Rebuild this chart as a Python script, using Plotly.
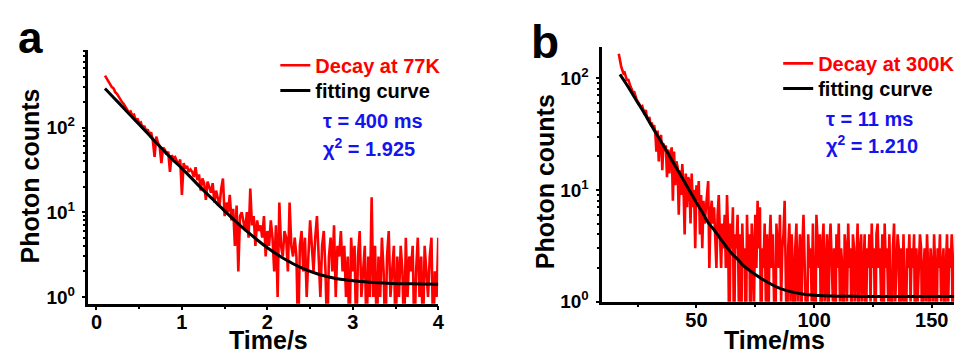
import plotly.graph_objects as go

# ---------------- Panel a : decay at 77 K ----------------
a_t0 = 0.10      # s, first time bin
a_dt = 0.02      # s, bin width
a_counts = [
    410, 380, 350, 330, 300, 290, 262, 250, 231, 220, 200,
    190, 175, 168, 150, 155, 138, 142, 120, 128, 112,
    115, 98, 105, 90, 95, 82, 88, 70, 45, 78,
    66, 60, 38, 58, 55, 48, 52, 30, 47, 44,
    45, 40, 36, 42, 16, 38, 33, 35, 30, 32,
    30, 26, 34, 24, 28, 18, 25, 22, 14, 23,
    20, 17, 22, 13, 18, 15, 12, 19, 25, 9,
    13, 10, 16, 8, 11, 4, 12, 2, 9, 10,
    8, 6, 10, 5, 19, 7, 9, 4, 8, 6,
    7, 5, 9, 3, 6, 4, 8, 5, 2, 7,
    1, 13, 4, 3, 6, 5, 2, 13, 4, 3,
    5, 3, 0, 4, 6, 2, 5, 1, 3, 8,
    4, 2, 5, 9, 3, 1, 4, 6, 2, 0,
    3, 5, 2, 7, 1, 4, 3, 6, 2, 4,
    1, 3, 0, 5, 2, 4, 0, 3, 6, 1,
    2, 4, 0, 3, 1, 15, 1, 4, 0, 3,
    1, 5, 2, 0, 3, 6, 1, 2, 4, 0,
    3, 1, 4, 2, 0, 5, 1, 3, 2, 4,
    0, 2, 5, 1, 3, 0, 4, 2, 1, 3,
    5, 0, 2, 1, 5,
]
a_fit_t = [0.1, 0.2, 0.3, 0.4, 0.5, 0.6, 0.7, 0.8, 0.9, 1.0, 1.2, 1.4, 1.6, 1.8,
           2.0, 2.2, 2.4, 2.6, 2.8, 3.0, 3.2, 3.4, 3.6, 3.8, 4.0]
a_fit_y = [290, 227, 178, 139, 109, 85, 66, 52, 41, 33, 20.5, 13, 8.3, 5.5,
           3.8, 2.8, 2.2, 1.85, 1.65, 1.55, 1.49, 1.45, 1.43, 1.42, 1.41]

# ---------------- Panel b : decay at 300 K ----------------
b_t0 = 17.0      # ms, first time bin
b_dt = 0.5       # ms, bin width
b_counts = [
    165, 140, 128, 118, 110, 112, 100, 95, 98, 88,
    84, 80, 74, 76, 68, 65, 62, 60, 58, 55,
    56, 50, 47, 52, 44, 42, 45, 38, 40, 36,
    38, 33, 22, 34, 18, 29, 31, 15, 26, 22,
    25, 13, 23, 14, 21, 24, 8, 22, 11, 18,
    16, 6, 15, 9, 17, 11, 4, 14, 7, 13,
    12, 5, 14, 7, 10, 3, 11, 8, 12, 4,
    9, 3, 8, 5, 7, 10, 12, 2, 6, 8,
    5, 7, 3, 2, 6, 9, 4, 2, 5, 3,
    6, 2, 9, 4, 0, 5, 3, 7, 0, 4,
    3, 6, 1, 4, 0, 5, 2, 3, 0, 6,
    2, 4, 0, 5, 3, 1, 6, 2, 8, 3,
    7, 0, 3, 2, 5, 1, 4, 0, 3, 6,
    2, 4, 1, 0, 5, 3, 2, 6, 1, 3,
    4, 8, 2, 0, 3, 5, 1, 4, 2, 0,
    3, 5, 1, 2, 4, 0, 3, 6, 2, 1,
    0, 4, 2, 3, 1, 5, 2, 0, 6, 3,
    2, 4, 0, 3, 5, 1, 2, 4, 0, 3,
    5, 2, 1, 3, 0, 4, 2, 5, 1, 3,
    2, 0, 4, 3, 1, 5, 2, 3, 0, 4,
    3, 1, 2, 5, 0, 3, 4, 1, 2, 4,
    0, 3, 2, 4, 1, 5, 2, 3, 0, 4,
    5, 2, 3, 1, 4, 0, 5, 2, 3, 1,
    4, 2, 0, 3, 5, 1, 2, 4, 3, 0,
    3, 1, 4, 2, 0, 3, 2, 4, 1, 3,
    2, 4, 0, 3, 1, 2, 4, 3, 0, 2,
    3, 1, 4, 2, 0, 3, 2, 1, 4, 2,
    0, 3, 2, 4, 1, 2, 3, 0, 2, 4,
    1, 3, 2, 4, 0, 2, 4,
]
b_fit_t = [17.5, 20, 22.5, 25, 27.5, 30, 32.5, 35, 37.5, 40, 42.5, 45, 47.5, 50,
           52.5, 55, 57.5, 60, 62.5, 65, 67.5, 70, 75, 80, 85, 90, 95, 100,
           110, 120, 140, 160]
b_fit_y = [108, 90, 74, 60.5, 50, 40.5, 33, 27, 22, 17.8, 14.5, 11.7, 9.5, 7.7,
           6.3, 5.1, 4.4, 3.7, 3.15, 2.7, 2.4, 2.1, 1.75, 1.5, 1.33, 1.23, 1.17, 1.14,
           1.12, 1.115, 1.11, 1.11]

# tick definitions
log_tickvals = [1, 10, 100]
log_ticktext = ["10<sup>0</sup>", "10<sup>1</sup>", "10<sup>2</sup>"]
log_minor = [2, 3, 4, 5, 6, 7, 8, 9, 20, 30, 40, 50, 60, 70, 80, 90, 200, 300, 400, 500, 600, 700, 800]
a_xticks = [0, 1, 2, 3, 4]
a_xminor = [0.5, 1.5, 2.5, 3.5]
b_xticks = [50, 100, 150]
b_xminor = [25, 75, 125]

ZERO_FLOOR = 0.3  # zero-count bins are drawn below the log axis (clipped)

a_t = [a_t0 + i * a_dt for i in range(len(a_counts))]
b_t = [b_t0 + i * b_dt for i in range(len(b_counts))]
a_y = [c if c > 0 else ZERO_FLOOR for c in a_counts]
b_y = [c if c > 0 else ZERO_FLOOR for c in b_counts]

FONT = "Liberation Sans"
RED = "#ff0000"
BLUE = "#1414ee"

fig = go.Figure()
fig.add_trace(go.Scatter(x=a_t, y=a_y, mode="lines", line=dict(color=RED, width=2.6),
                         name="<span style='color:#ff0000'>Decay at 77K</span>",
                         xaxis="x", yaxis="y", legend="legend"))
fig.add_trace(go.Scatter(x=a_fit_t, y=a_fit_y, mode="lines", line=dict(color="black", width=3, shape="spline"),
                         name="fitting curve", xaxis="x", yaxis="y", legend="legend3"))
fig.add_trace(go.Scatter(x=b_t, y=b_y, mode="lines", line=dict(color=RED, width=2.6),
                         name="<span style='color:#ff0000'>Decay at 300K</span>",
                         xaxis="x2", yaxis="y2", legend="legend2"))
fig.add_trace(go.Scatter(x=b_fit_t, y=b_fit_y, mode="lines", line=dict(color="black", width=3, shape="spline"),
                         name="fitting curve", xaxis="x2", yaxis="y2", legend="legend4"))

W, H = 965, 358
def px(v): return v / W
def py(v): return 1 - v / H

axis_common = dict(showline=True, linecolor="black", linewidth=2.5, showgrid=False, zeroline=False,
                   ticks="outside", ticklen=4, tickwidth=2, tickcolor="black")
xtickfont = dict(family=FONT, size=20, color="black", weight="bold")
ytickfont = dict(family=FONT, size=19, color="black", weight="bold")
title_font = dict(family=FONT, size=25, color="black", weight="bold")

def legend_box(x, y):
    return dict(x=px(x), y=py(y), xanchor="left", yanchor="top", bgcolor="rgba(0,0,0,0)",
                font=dict(family=FONT, size=20, color="black", weight="bold"), itemwidth=30)

fig.update_layout(
    width=W, height=H, margin=dict(l=0, r=0, t=0, b=0),
    paper_bgcolor="white", plot_bgcolor="white",
    font=dict(family=FONT, color="black"),
    xaxis=dict(**axis_common, tickfont=xtickfont, ticklabelstandoff=-5,
               domain=[px(81), px(433)], range=[-0.093, 4.0], anchor="y",
               tickmode="array", tickvals=a_xticks,
               minor=dict(tickmode="array", tickvals=a_xminor, ticks="outside", ticklen=3, tickwidth=2, tickcolor="black")),
    yaxis=dict(**axis_common, tickfont=ytickfont, ticklabelstandoff=3,
               domain=[py(305), py(43)], type="log", range=[-0.08, 2.92], anchor="x",
               tickmode="array", tickvals=log_tickvals, ticktext=log_ticktext,
               minor=dict(tickmode="array", tickvals=log_minor, ticks="outside", ticklen=3, tickwidth=1.5, tickcolor="black")),
    xaxis2=dict(**axis_common, tickfont=xtickfont, ticklabelstandoff=-5,
                domain=[px(598), px(952)], range=[10, 159.5], anchor="y2",
                tickmode="array", tickvals=b_xticks,
                minor=dict(tickmode="array", tickvals=b_xminor, ticks="outside", ticklen=3, tickwidth=2, tickcolor="black")),
    yaxis2=dict(**axis_common, tickfont=ytickfont, ticklabelstandoff=3,
                domain=[py(303), py(40)], type="log", range=[0, 2.28], anchor="x2",
                tickmode="array", tickvals=log_tickvals, ticktext=log_ticktext,
                minor=dict(tickmode="array", tickvals=log_minor, ticks="outside", ticklen=3, tickwidth=1.5, tickcolor="black")),
    legend=legend_box(269, 39),
    legend3=legend_box(269, 65),
    legend2=legend_box(775, 37),
    legend4=legend_box(775, 63),
    showlegend=True,
)

def note(text, x, y, font, **kw):
    fig.add_annotation(text=text, x=px(x), y=py(y), xref="paper", yref="paper",
                       showarrow=False, font=font, **kw)

# axis titles
note("Time/s", 262, 343, title_font, xanchor="center", yanchor="middle")
note("Time/ms", 771, 343, title_font, xanchor="center", yanchor="middle")
note("Photon counts", 22, 173, title_font, xanchor="center", yanchor="middle", textangle=-90)
note("Photon counts", 540, 179, title_font, xanchor="center", yanchor="middle", textangle=-90)

# panel letters
note("a", 8, 58, dict(family=FONT, size=44, color="black", weight="bold"), xanchor="left", yanchor="bottom")
note("b", 524, 64, dict(family=FONT, size=46, color="black", weight="bold"), xanchor="left", yanchor="bottom")

# fit parameters
ann_font = dict(family=FONT, size=20, color=BLUE, weight="bold")
note("τ = 400 ms", 315, 117, ann_font, xanchor="left", yanchor="middle")
note("χ<sup>2</sup> = 1.925", 315, 144, ann_font, xanchor="left", yanchor="middle")
note("τ = 11 ms", 821, 115, ann_font, xanchor="left", yanchor="middle")
note("χ<sup>2</sup> = 1.210", 821, 141, ann_font, xanchor="left", yanchor="middle")

fig.write_html("out.html")
